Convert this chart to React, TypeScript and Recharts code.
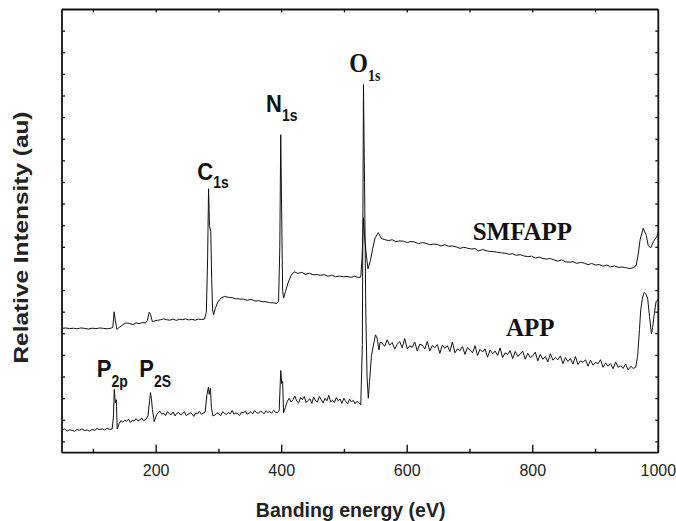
import React from 'react';
import { LineChart, Line, XAxis, YAxis, ReferenceDot } from 'recharts';

const SANS = '"Liberation Sans", Arial, Helvetica, sans-serif';
const SERIF = '"Liberation Serif", "Times New Roman", Times, serif';

// Binding energy (eV) vs relative intensity (au)
const smfappPoints: [number, number][] = [
  [50, 5.25], [56, 5.27], [62, 5.24], [68, 5.26], [74, 5.23], [80, 5.27], [86, 5.25], [92, 5.22],
  [98, 5.26], [104, 5.24], [110, 5.27], [116, 5.25], [122, 5.23], [128, 5.26], [131, 5.3], [133, 6.02],
  [135, 5.6], [137.5, 5.2], [140, 5.27], [145, 5.38], [150, 5.48], [153, 5.5], [158, 5.47], [163, 5.43],
  [168, 5.5], [173, 5.47], [178, 5.52], [183, 5.5], [186, 5.62], [189, 5.99], [191, 5.9], [194, 5.55],
  [198, 5.6], [202, 5.62], [207, 5.65], [212, 5.69], [217, 5.65], [222, 5.63], [227, 5.68], [232, 5.62],
  [237, 5.67], [242, 5.65], [247, 5.69], [252, 5.64], [257, 5.67], [262, 5.63], [267, 5.68], [272, 5.66],
  [277, 5.68], [280, 6.0], [282, 8.5], [283.5, 11.71], [285, 10.0], [287, 9.72], [288.5, 7.5], [290, 6.1],
  [291.5, 5.88], [294, 6.15], [298, 6.45], [303, 6.65], [309, 6.73], [315, 6.69], [321, 6.67], [327, 6.62],
  [333, 6.61], [339, 6.6], [345, 6.55], [351, 6.59], [357, 6.52], [363, 6.53], [369, 6.49], [375, 6.48],
  [381, 6.44], [387, 6.43], [392, 6.4], [395, 6.5], [397, 9.0], [398.5, 14.21], [400, 10.5], [401.5, 7.0],
  [403, 6.65], [406, 6.95], [410, 7.35], [415, 7.7], [420, 7.87], [426, 7.79], [432, 7.84], [438, 7.75],
  [444, 7.8], [450, 7.73], [456, 7.74], [462, 7.71], [468, 7.73], [474, 7.66], [480, 7.71], [486, 7.64],
  [492, 7.67], [498, 7.64], [504, 7.65], [510, 7.61], [516, 7.66], [522, 7.6], [526, 7.63], [528, 8.5],
  [530.3, 10.37], [532, 9.5], [535, 8.6], [537.5, 8.0], [541.5, 8.4], [545, 8.95], [549, 9.45], [554, 9.68],
  [559, 9.4], [564, 9.36], [570, 9.31], [576, 9.35], [582, 9.26], [588, 9.3], [594, 9.28], [600, 9.22],
  [606, 9.27], [612, 9.24], [618, 9.17], [624, 9.22], [630, 9.18], [636, 9.12], [642, 9.15], [648, 9.13],
  [654, 9.06], [660, 9.12], [666, 9.05], [672, 9.06], [678, 9.02], [684, 8.95], [690, 9.0], [696, 8.96],
  [702, 8.92], [708, 8.94], [714, 8.83], [720, 8.9], [726, 8.84], [732, 8.81], [738, 8.8], [744, 8.77],
  [750, 8.74], [756, 8.73], [762, 8.68], [768, 8.7], [774, 8.63], [780, 8.66], [786, 8.6], [792, 8.57],
  [798, 8.59], [804, 8.5], [810, 8.55], [816, 8.48], [822, 8.46], [828, 8.48], [834, 8.42], [840, 8.36],
  [846, 8.42], [852, 8.33], [858, 8.31], [864, 8.34], [870, 8.26], [876, 8.3], [882, 8.27], [888, 8.2],
  [894, 8.25], [900, 8.18], [906, 8.2], [912, 8.13], [918, 8.18], [924, 8.1], [930, 8.14], [936, 8.07],
  [942, 8.09], [948, 8.06], [954, 8.02], [960, 8.05], [964.5, 8.15], [968, 8.66], [971, 9.35], [976, 9.88],
  [981, 9.54], [984, 9.07], [988, 8.98], [992, 9.26], [997.5, 9.49], [1000, 9.72],
];

const appPoints: [number, number][] = [
  [50, 0.55], [54, 0.6], [58, 0.5], [62, 0.56], [66, 0.53], [70, 0.49], [74, 0.57], [78, 0.54],
  [82, 0.6], [86, 0.52], [90, 0.55], [94, 0.5], [98, 0.58], [102, 0.53], [106, 0.62], [110, 0.57],
  [114, 0.6], [118, 0.55], [122, 0.63], [126, 0.58], [130, 0.6], [132, 1.2], [133.3, 2.43], [135, 1.8],
  [136.5, 1.95], [138, 0.6], [141, 0.85], [144, 0.98], [147, 0.92], [150, 1.0], [153, 0.95], [156, 1.05],
  [159, 0.9], [162, 1.0], [165, 0.96], [168, 1.08], [171, 0.97], [174, 1.02], [177, 1.1], [180, 0.98],
  [184, 1.05], [187, 1.2], [189.5, 1.9], [191, 2.28], [192.5, 2.0], [194, 1.5], [197, 0.94], [200, 1.2],
  [203, 1.35], [206, 1.42], [209, 1.28], [212, 1.33], [215, 1.22], [218, 1.4], [221, 1.3], [224, 1.26],
  [227, 1.38], [230, 1.2], [233, 1.32], [236, 1.36], [239, 1.25], [242, 1.3], [245, 1.4], [248, 1.22],
  [251, 1.28], [254, 1.35], [257, 1.3], [260, 1.18], [263, 1.34], [266, 1.3], [269, 1.42], [272, 1.28],
  [275, 1.33], [278, 1.38], [281, 2.2], [283.3, 2.53], [284.5, 2.2], [286.5, 2.48], [288, 1.6], [290.5, 1.2],
  [294, 1.25], [297, 1.35], [300, 1.28], [303, 1.22], [306, 1.4], [309, 1.32], [312, 1.27], [315, 1.36],
  [318, 1.3], [321, 1.45], [324, 1.28], [327, 1.34], [330, 1.3], [333, 1.22], [336, 1.38], [339, 1.35],
  [342, 1.42], [345, 1.28], [348, 1.33], [351, 1.4], [354, 1.3], [357, 1.45], [360, 1.35], [363, 1.32],
  [366, 1.42], [369, 1.38], [372, 1.3], [375, 1.44], [378, 1.36], [381, 1.4], [384, 1.33], [387, 1.46],
  [390, 1.38], [393, 1.35], [396, 1.45], [398.5, 3.3], [400, 2.7], [401.5, 2.8], [403, 1.35], [406, 1.6],
  [409, 1.88], [412, 2.02], [415, 1.85], [418, 1.95], [421, 2.12], [424, 1.88], [427, 1.8], [430, 2.05],
  [433, 1.95], [436, 2.1], [439, 1.82], [442, 1.92], [445, 2.0], [448, 1.78], [451, 2.08], [454, 1.9],
  [457, 1.85], [460, 2.1], [463, 1.95], [466, 1.8], [469, 2.02], [472, 1.9], [475, 2.15], [478, 1.85],
  [481, 1.93], [484, 1.82], [487, 2.05], [490, 1.9], [493, 1.98], [496, 1.78], [499, 2.02], [502, 1.88],
  [505, 1.75], [508, 1.98], [511, 1.85], [514, 1.92], [517, 1.76], [520, 1.88], [523, 1.8], [526, 1.72],
  [528.5, 4.5], [530.3, 16.53], [532, 12.0], [534, 6.0], [536, 3.0], [538, 2.02], [540, 2.8], [543, 4.0],
  [547, 4.6], [549.5, 4.95], [552, 4.8], [555, 4.26], [557, 4.62], [560, 4.57], [564, 4.42], [568, 4.72],
  [572, 4.47], [576, 4.6], [580, 4.29], [584, 4.51], [588, 4.64], [592, 4.36], [596, 4.78], [600, 4.3],
  [604, 4.45], [608, 4.37], [612, 4.62], [616, 4.2], [620, 4.52], [624, 4.47], [628, 4.3], [632, 4.65],
  [636, 4.2], [640, 4.46], [644, 4.36], [648, 4.5], [652, 4.1], [656, 4.48], [660, 4.33], [664, 4.45],
  [668, 4.18], [672, 4.62], [676, 4.12], [680, 4.3], [684, 4.22], [688, 4.41], [692, 4.05], [696, 4.36],
  [700, 4.25], [704, 4.12], [708, 4.45], [712, 4.0], [716, 4.28], [720, 4.16], [724, 4.3], [728, 3.92],
  [732, 4.25], [736, 4.08], [740, 4.2], [744, 4.0], [748, 4.35], [752, 3.9], [756, 4.12], [760, 4.05],
  [764, 4.22], [768, 3.85], [772, 4.18], [776, 3.95], [780, 4.05], [784, 4.2], [788, 3.82], [792, 4.1],
  [796, 3.9], [800, 3.98], [804, 4.15], [808, 3.75], [812, 4.05], [816, 3.82], [820, 3.95], [824, 3.7],
  [828, 4.08], [832, 3.78], [836, 3.9], [840, 3.8], [844, 3.98], [848, 3.62], [852, 3.9], [856, 3.72],
  [860, 3.85], [864, 3.6], [868, 3.95], [872, 3.58], [876, 3.75], [880, 3.68], [884, 3.8], [888, 3.5],
  [892, 3.78], [896, 3.55], [900, 3.68], [904, 3.62], [908, 3.8], [912, 3.45], [916, 3.65], [920, 3.5],
  [924, 3.62], [928, 3.38], [932, 3.7], [936, 3.45], [940, 3.52], [944, 3.4], [948, 3.6], [952, 3.33],
  [956, 3.5], [960, 3.4], [964, 3.45], [967, 3.95], [970, 5.2], [972, 6.11], [975, 6.7], [977.5, 6.91],
  [980, 6.85], [983, 6.65], [986, 5.8], [989, 5.0], [991, 5.3], [994, 6.0], [996.5, 6.5], [1000, 6.57],
];

const xTicks = [100, 200, 300, 400, 500, 600, 700, 800, 900, 1000];
const xLabeledTicks = [200, 400, 600, 800, 1000];
const yTicks = [0, 1, 2, 3, 4, 5, 6, 7, 8, 9, 10, 11, 12, 13, 14, 15, 16, 17, 18, 19];

const xTitle = 'Banding energy (eV)';
const yTitle = 'Relative Intensity (au)';
const seriesNames = ['SMFAPP', 'APP'];

const smfappData = smfappPoints.map(([e, v]) => ({ e, v }));
const appData = appPoints.map(([e, v]) => ({ e, v }));

const FRAME = '#111';
const V_STRETCH = 1.12;

const BottomTick = (p: any) => {
  const { x, y, payload } = p;
  const v = payload.value;
  const major = xLabeledTicks.includes(v);
  return (
    <g>
      <line x1={x} x2={x} y1={y} y2={y - (major ? 8 : 4)} stroke={FRAME} strokeWidth={1.4} />
      {major && (
        <text x={x} y={y + 23.5} textAnchor="middle" fontSize={16} fontFamily={SANS} fill="#222">
          {v}
        </text>
      )}
    </g>
  );
};

const TopTick = (p: any) => {
  const { x, y } = p;
  return <line x1={x} x2={x} y1={y} y2={y + 3} stroke={FRAME} strokeWidth={1.3} />;
};

const LeftTick = (p: any) => {
  const { x, y } = p;
  return <line x1={x} x2={x + 3} y1={y} y2={y} stroke={FRAME} strokeWidth={1.3} />;
};

const RightTick = (p: any) => {
  const { x, y } = p;
  return <line x1={x} x2={x - 3} y1={y} y2={y} stroke={FRAME} strokeWidth={1.3} />;
};

const XTitle = (p: any) => {
  const vb = p.viewBox || {};
  return (
    <text
      x={vb.x + vb.width / 2 - 9.5}
      y={vb.y + 64.5}
      textAnchor="middle"
      fontSize={19.5}
      fontWeight="bold"
      fontFamily={SANS}
      fill="#222"
    >
      {xTitle}
    </text>
  );
};

const YTitle = (p: any) => {
  const vb = p.viewBox || {};
  const cx = vb.x + 28;
  const cy = vb.y + vb.height / 2 + 6.4;
  return (
    <text
      transform={`translate(${cx}, ${cy}) rotate(-90)`}
      x={0}
      y={0}
      textAnchor="middle"
      fontSize={19.5}
      fontWeight="bold"
      fontFamily={SANS}
      fill="#222"
      textLength={252}
      lengthAdjust="spacingAndGlyphs"
    >
      {yTitle}
    </text>
  );
};

const makePeakLabel = (main: string, sub: string, serif: boolean, subDy: number) => (p: any) => {
  const vb = p.viewBox || {};
  const x = vb.x ?? vb.cx;
  const y = vb.y ?? vb.cy;
  return (
    <g transform={`translate(${x}, ${y}) scale(1, ${V_STRETCH})`}>
      <text x={0} y={0} fontFamily={serif ? SERIF : SANS} fontWeight="bold" fill="#111">
        <tspan fontSize={serif ? 24 : 22}>{main}</tspan>
        <tspan fontSize={14} dy={subDy / V_STRETCH}>{sub}</tspan>
      </text>
    </g>
  );
};

const makeNameLabel = (name: string) => (p: any) => {
  const vb = p.viewBox || {};
  const x = vb.x ?? vb.cx;
  const y = vb.y ?? vb.cy;
  return (
    <text x={x} y={y} fontFamily={SERIF} fontWeight="bold" fontSize={25} fill="#111">
      {name}
    </text>
  );
};

export default function App() {
  return (
    <div style={{ position: 'absolute', left: 0, top: 0, width: 676, height: 521, background: '#fff' }}>
      <LineChart width={676} height={521} margin={{ top: 0, right: 0, bottom: 0, left: 0 }}>
        <XAxis
          xAxisId="main"
          dataKey="e"
          type="number"
          domain={[50, 1000]}
          ticks={xTicks}
          interval={0}
          orientation="bottom"
          height={68.3}
          tickSize={0}
          tickMargin={0}
          tickLine={false}
          tick={<BottomTick />}
          axisLine={{ stroke: FRAME, strokeWidth: 1.8 }}
          allowDataOverflow
          label={{ content: <XTitle /> }}
        />
        <XAxis
          xAxisId="top"
          dataKey="e"
          type="number"
          domain={[50, 1000]}
          ticks={xTicks}
          interval={0}
          orientation="top"
          height={9.5}
          tickSize={0}
          tickMargin={0}
          tickLine={false}
          tick={<TopTick />}
          axisLine={{ stroke: FRAME, strokeWidth: 1.8 }}
          allowDataOverflow
        />
        <YAxis
          yAxisId="main"
          type="number"
          domain={[-0.5, 20]}
          ticks={yTicks}
          interval={0}
          orientation="left"
          width={62}
          tickSize={0}
          tickMargin={0}
          tickLine={false}
          tick={<LeftTick />}
          axisLine={{ stroke: FRAME, strokeWidth: 1.8 }}
          allowDataOverflow
          label={{ content: <YTitle /> }}
        />
        <YAxis
          yAxisId="right"
          type="number"
          domain={[-0.5, 20]}
          ticks={yTicks}
          interval={0}
          orientation="right"
          width={17.7}
          tickSize={0}
          tickMargin={0}
          tickLine={false}
          tick={<RightTick />}
          axisLine={{ stroke: FRAME, strokeWidth: 1.8 }}
          allowDataOverflow
        />
        <Line
          xAxisId="main"
          yAxisId="main"
          data={smfappData}
          dataKey="v"
          name={seriesNames[0]}
          type="linear"
          stroke="#111"
          strokeWidth={1}
          dot={false}
          activeDot={false}
          isAnimationActive={false}
        />
        <Line
          xAxisId="main"
          yAxisId="main"
          data={appData}
          dataKey="v"
          name={seriesNames[1]}
          type="linear"
          stroke="#111"
          strokeWidth={1}
          dot={false}
          activeDot={false}
          isAnimationActive={false}
        />
        <ReferenceDot xAxisId="main" yAxisId="main" x={265.5} y={12.13} r={0} fill="none" stroke="none" label={{ content: makePeakLabel('C', '1s', false, 8) }} />
        <ReferenceDot xAxisId="main" yAxisId="main" x={375} y={15.25} r={0} fill="none" stroke="none" label={{ content: makePeakLabel('N', '1s', false, 9) }} />
        <ReferenceDot xAxisId="main" yAxisId="main" x={507.7} y={17.1} r={0} fill="none" stroke="none" label={{ content: makePeakLabel('O', '1s', true, 9) }} />
        <ReferenceDot xAxisId="main" yAxisId="main" x={105.3} y={3.02} r={0} fill="none" stroke="none" label={{ content: makePeakLabel('P', '2p', false, 10) }} />
        <ReferenceDot xAxisId="main" yAxisId="main" x={173.1} y={3.02} r={0} fill="none" stroke="none" label={{ content: makePeakLabel('P', '2S', false, 10) }} />
        <ReferenceDot xAxisId="main" yAxisId="main" x={704.2} y={9.35} r={0} fill="none" stroke="none" label={{ content: makeNameLabel(seriesNames[0]) }} />
        <ReferenceDot xAxisId="main" yAxisId="main" x={757.3} y={4.91} r={0} fill="none" stroke="none" label={{ content: makeNameLabel(seriesNames[1]) }} />
      </LineChart>
    </div>
  );
}
